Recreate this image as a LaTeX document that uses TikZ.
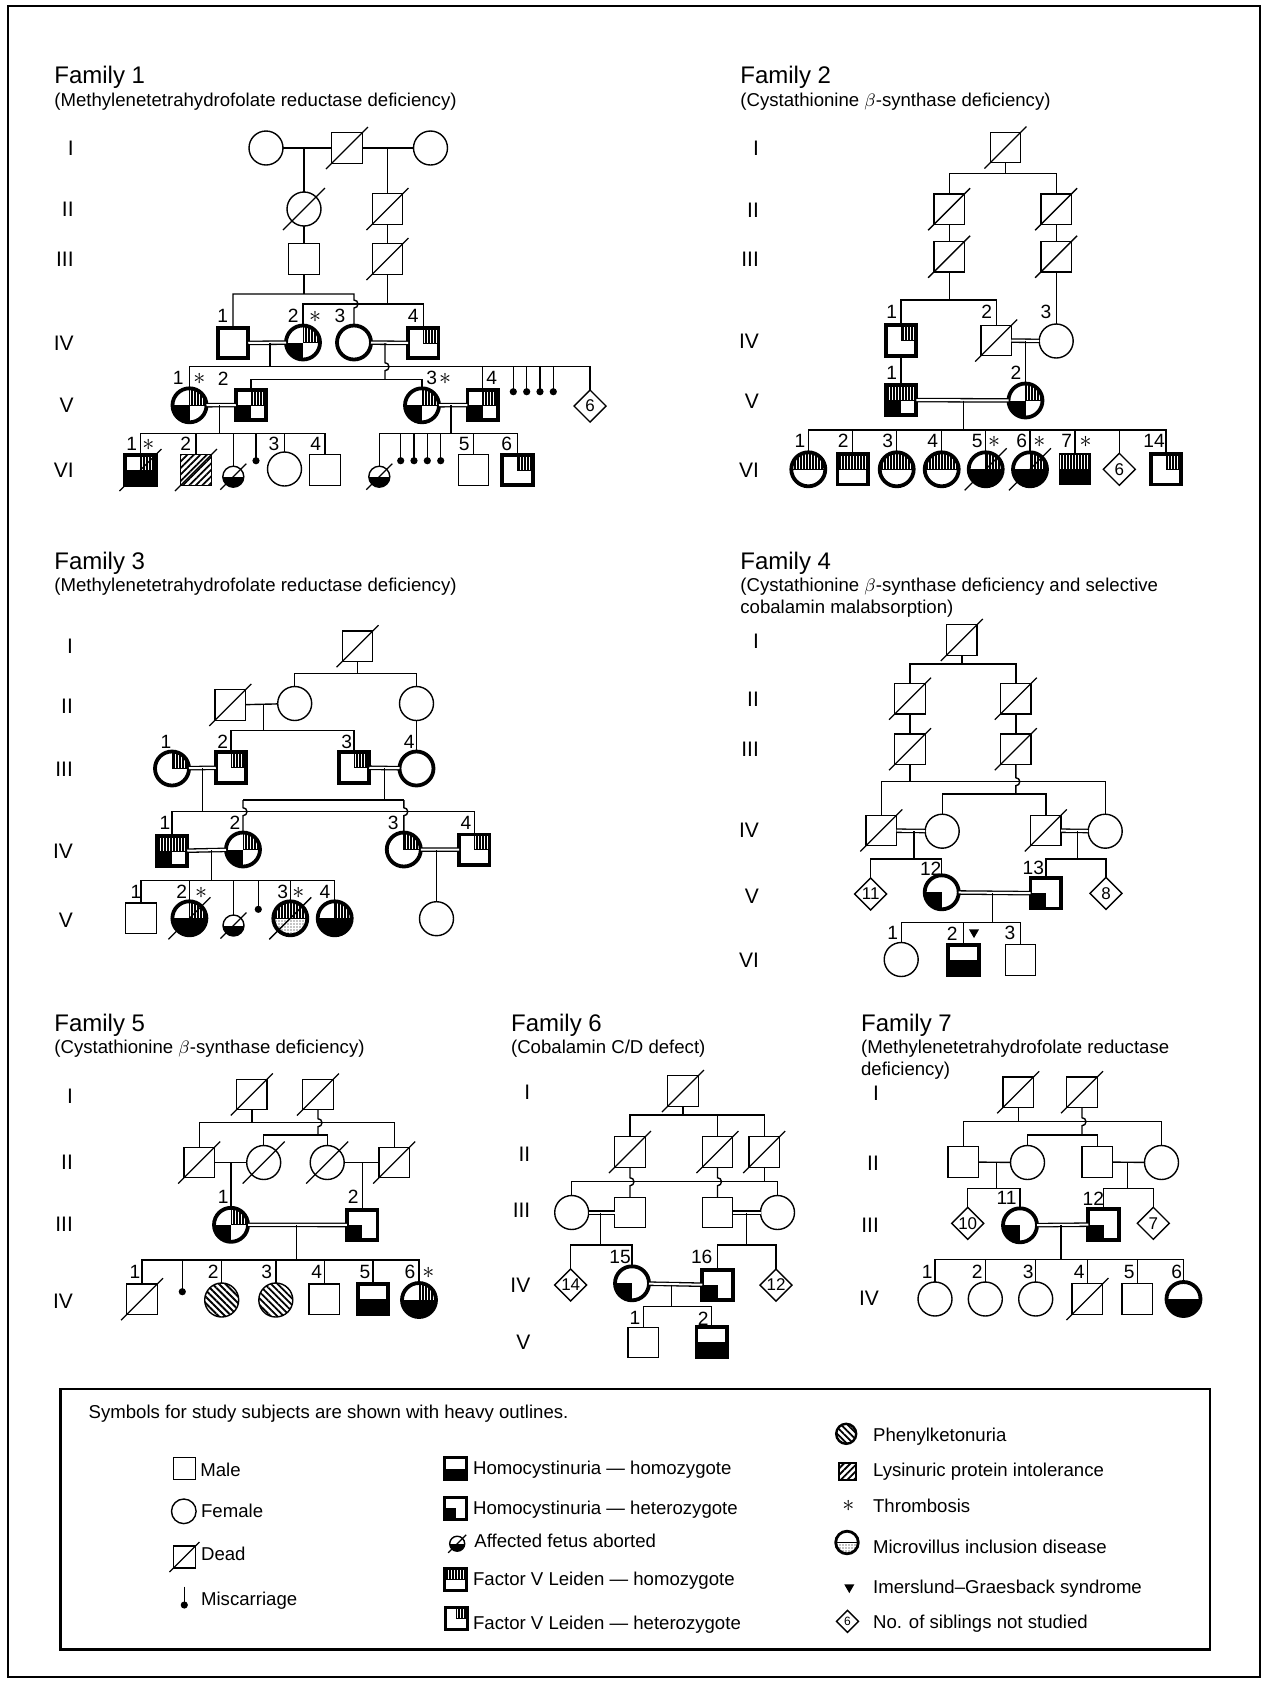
\documentclass[tikz,border=0pt]{standalone}
\usepackage{fontspec}
\setmainfont{Liberation Sans}
\usetikzlibrary{shapes.geometric,patterns.meta}
\newcounter{labc}
\newcommand\plab[2]{\stepcounter{labc}\node[lab] (lab\arabic{labc}) at (#1) {#2};}
\newcommand\past[1]{\stepcounter{labc}\node[astk] (lab\arabic{labc}) at (#1) {$\ast$};}
\newcommand\pgen[3]{\stepcounter{labc}\node[gen] (gen\arabic{labc}) at (#1,#2) {#3};}
\newcommand\pdead[2][21]{\draw[line width=0.65pt] (#2.center) ++(-#1,#1) -- ++({2*#1},{-2*#1});}
\newcommand\pbump{arc[start angle=-90,end angle=90,radius=4]}
\newcommand\qUR[1]{\path[#1] (path picture bounding box.center) rectangle (path picture bounding box.north east);}
\newcommand\qTOP[1]{\path[#1] (path picture bounding box.west) rectangle (path picture bounding box.north east);}
\newcommand\qLL[1]{\path[#1] (path picture bounding box.south west) rectangle (path picture bounding box.center);}
\newcommand\qBOT[1]{\path[#1] (path picture bounding box.south west) rectangle (path picture bounding box.east);}
\newcommand\qALL[1]{\path[#1] (path picture bounding box.south west) rectangle (path picture bounding box.north east);}
\tikzset{
  ln/.style={line width=0.7pt},
  dbl/.style={double, double distance=1pt, line width=0.65pt},
  base/.style={draw, line width=0.7pt, inner sep=0pt, outer sep=0pt, fill=white},
  M/.style={base, rectangle, minimum size=15.25pt},
  F/.style={base, circle, minimum size=17pt},
  H/.style={line width=1.9pt},
  Dm/.style={base, diamond, aspect=1, minimum width=16pt, minimum height=16pt, font=\fontsize{8.5}{8.5}\selectfont},
  fetus/.style={base, circle, minimum size=10.5pt, path picture={\qBOT{blk}}},
  mdot/.style={circle, fill=black, inner sep=0pt, minimum size=3.6pt},
  pp/.style={path picture={#1}},
  lab/.style={font=\fontsize{9.6}{9.6}\selectfont, inner sep=0pt},
  astk/.style={font=\fontsize{13}{13}\selectfont, inner sep=0pt},
  gen/.style={font=\fontsize{10.5}{10.5}\selectfont, inner sep=0pt, anchor=east},
  ttl/.style={font=\fontsize{12}{12}\selectfont, inner sep=0pt, anchor=base west},
  sub/.style={font=\fontsize{9.3}{9.3}\selectfont, inner sep=0pt, anchor=base west},
  leg/.style={font=\fontsize{9.3}{9.3}\selectfont, inner sep=0pt, anchor=base west},
  hatch/.style={pattern={Lines[angle=90,distance=1.5pt,line width=0.55pt]}, draw, line width=0.45pt},
  blk/.style={fill=black},
  pku/.style={pattern={Lines[angle=-45,distance=2.3pt,line width=0.9pt]}},
  lpi/.style={pattern={Lines[angle=45,distance=2.3pt,line width=0.9pt]}},
  mvi/.style={pattern={Dots[distance=1.5pt,radius=0.3pt]}, draw, line width=0.45pt},
  tri/.style={regular polygon, regular polygon sides=3, shape border rotate=180, fill=black, inner sep=0pt, minimum size=5.8pt},
}
\begin{document}
\begin{tikzpicture}[x=0.5pt,y=-0.5pt]
\useasboundingbox (0,0) rectangle (1267,1683);
\draw[line width=1pt] (8,6) rectangle (1260,1677);

%%%%%%%%%%%%%%%% FAMILY 1
\node[ttl] (t1) at (54,83.3) {Family 1};
\node[sub] (s1) at (54,106) {(Methylenetetrahydrofolate reductase deficiency)};
\pgen{74}{148}{I}\pgen{74}{209}{II}\pgen{74}{259}{III}\pgen{74}{343}{IV}\pgen{74}{405}{V}\pgen{74}{470}{VI}
\node[F] (f1i1) at (266,148) {};
\node[M] (f1i2) at (347,148) {};
\node[F] (f1i3) at (430.5,148) {};
\draw[ln] (f1i1) -- (f1i2) -- (f1i3);
\coordinate (f1j1) at (304,148);
\coordinate (f1j2) at (387.5,148);
\node[F] (f1ii1) at (304,209) {};
\node[M] (f1ii2) at (387.5,209) {};
\node[M] (f1iii1) at (304,259) {};
\node[M] (f1iii2) at (387.5,259) {};
\draw[ln] (f1j1) -- (f1ii1) -- (f1iii1);
\draw[ln] (f1j2) -- (f1ii2) -- (f1iii2);
\node[M,H] (f1iv1) at (233,343) {};
\node[F,H,pp={\qUR{hatch}\qLL{blk}}] (f1iv2) at (303,342.5) {};
\node[F,H] (f1iv3) at (354,342.5) {};
\node[M,H,pp={\qUR{hatch}}] (f1iv4) at (423.3,343) {};
\draw[dbl] (f1iv1) -- (f1iv2);
\draw[dbl] (f1iv3) -- (f1iv4);
\coordinate (f1sA) at (304,294);
\coordinate (f1b1) at (354,300);
\draw[ln] (f1iii1) -- (f1sA);
\draw[ln] (f1iv1.north) |- (f1sA) -- (f1b1 |- f1sA) -- (f1b1) \pbump -- (f1iv3.north);
\coordinate (f1sB) at (387.5,304);
\draw[ln] (f1iii2) -- (f1sB);
\draw[ln] (f1iv2.north) |- (f1sB) -| (f1iv4.north);
\coordinate (f1m1) at (270,343);
\coordinate (f1sC) at (270,366.7);
\draw[ln] (f1m1) -- (f1sC);
\coordinate (f1m2) at (385,343);
\coordinate (f1b2) at (385,362.7);
\coordinate (f1sD) at (385,379.3);
\draw[ln] (f1m2) -- (f1b2) \pbump -- (f1sD);
\node[F,H,pp={\qUR{hatch}\qLL{blk}}] (f1v1) at (189.5,405.3) {};
\node[M,H,pp={\qUR{hatch}\qLL{blk}}] (f1v2) at (251,405) {};
\node[F,H,pp={\qUR{hatch}\qLL{blk}}] (f1v3) at (422,405.3) {};
\node[M,H,pp={\qUR{hatch}\qLL{blk}}] (f1v4) at (482.7,405) {};
\node[Dm] (f1d6) at (590,406) {6};
\draw[dbl] (f1v1) -- (f1v2);
\draw[dbl] (f1v3) -- (f1v4);
\draw[ln] (f1v1.north) |- (f1sC) -| (f1d6.north);
\draw[ln] (f1v4.north) -- (f1v4.north |- f1sC);
\node[mdot] (f1mc1) at (513.3,391.7) {};
\node[mdot] (f1mc2) at (526.7,391.7) {};
\node[mdot] (f1mc3) at (540,391.7) {};
\node[mdot] (f1mc4) at (553.3,391.7) {};
\foreach \n in {f1mc1,f1mc2,f1mc3,f1mc4} {\draw[ln] (\n.center) -- (\n |- f1sC);}
\draw[ln] (f1v2.north) |- (f1sD) -| (f1v3.north);
% VI left
\coordinate (f1m3) at (219.3,405);
\coordinate (f1sE) at (219.3,433.3);
\draw[ln] (f1m3) -- (f1sE);
\node[M,H,pp={\qUR{hatch}\qBOT{blk}}] (f1vi1) at (140.5,470) {};
\node[M,pp={\qALL{lpi}}] (f1vi2) at (196,470) {};
\node[fetus] (f1ab1) at (233.3,476.7) {};
\node[mdot] (f1mc5) at (256,460.7) {};
\node[F] (f1vi3) at (284.5,469) {};
\node[M] (f1vi4) at (325,470) {};
\draw[ln] (f1vi1.north) |- (f1sE) -| (f1vi4.north);
\foreach \n in {f1vi2,f1ab1,f1vi3} {\draw[ln] (\n.north) -- (\n.north |- f1sE);}
\draw[ln] (f1mc5.center) -- (f1mc5 |- f1sE);
% VI right
\coordinate (f1m4) at (451,405);
\coordinate (f1sF) at (451,433.3);
\draw[ln] (f1m4) -- (f1sF);
\node[fetus] (f1ab2) at (379.3,476.7) {};
\node[mdot] (f1mc6) at (400.7,460.7) {};
\node[mdot] (f1mc7) at (414,460.7) {};
\node[mdot] (f1mc8) at (427.3,460.7) {};
\node[mdot] (f1mc9) at (440.7,460.7) {};
\node[M] (f1vi5) at (473.5,470) {};
\node[M,H,pp={\qUR{hatch}}] (f1vi6) at (517.5,470) {};
\draw[ln] (f1ab2.north) |- (f1sF) -| (f1vi6.north);
\draw[ln] (f1vi5.north) -- (f1vi5.north |- f1sF);
\foreach \n in {f1mc6,f1mc7,f1mc8,f1mc9} {\draw[ln] (\n.center) -- (\n |- f1sF);}
\foreach \n in {f1i2,f1ii1,f1ii2,f1iii2,f1vi1,f1vi2} {\pdead{\n}}
\pdead[13]{f1ab1}\pdead[13]{f1ab2}
\plab{222.7,315.5}{1}\plab{293.3,315.5}{2}\past{315,316.5}\plab{340,315.5}{3}\plab{413.3,315.5}{4}
\plab{178.3,378.3}{1}\past{199.3,379.3}\plab{223.3,378.3}{2}\plab{431.7,378.3}{3}\past{445,379.3}\plab{491.7,378.3}{4}
\plab{131.7,444}{1}\past{148.3,445}\plab{185.7,444}{2}\plab{274,444}{3}\plab{315.7,444}{4}\plab{464.3,444}{5}\plab{506.7,444}{6}

%%%%%%%%%%%%%%%% FAMILY 2
\node[ttl] (t2) at (740,83.3) {Family 2};
\node[sub] (s2) at (740,106) {(Cystathionine $\beta$-synthase deficiency)};
\pgen{759.3}{148.3}{I}\pgen{759.3}{210.7}{II}\pgen{759.3}{259}{III}\pgen{759.3}{341}{IV}\pgen{759.3}{401.7}{V}\pgen{759.3}{470}{VI}
\node[M] (f2i) at (1005.5,147.5) {};
\coordinate (f2s1) at (1005.5,173.3);
\node[M] (f2ii1) at (949.2,209.2) {};
\node[M] (f2ii2) at (1056.2,209.2) {};
\node[M] (f2iii1) at (949.2,256.7) {};
\node[M] (f2iii2) at (1056.2,256.7) {};
\draw[ln] (f2i) -- (f2s1);
\draw[ln] (f2ii1.north) |- (f2s1) -| (f2ii2.north);
\draw[ln] (f2ii1) -- (f2iii1);
\draw[ln] (f2ii2) -- (f2iii2);
\coordinate (f2s2) at (949.2,300);
\node[M,H,pp={\qUR{hatch}}] (f2iv1) at (901,340.5) {};
\node[M] (f2iv2) at (996.2,340.5) {};
\node[F] (f2iv3) at (1056.2,341) {};
\draw[ln] (f2iii1) -- (f2s2);
\draw[ln] (f2iv1.north) |- (f2s2) -| (f2iv2.north);
\draw[ln] (f2iii2) -- (f2iv3);
\draw[dbl] (f2iv2) -- (f2iv3);
\node[M,H,pp={\qTOP{hatch}\qLL{blk}}] (f2v1) at (901,400) {};
\node[F,H,pp={\qUR{hatch}\qLL{blk}}] (f2v2) at (1025.5,400.5) {};
\draw[ln] (f2iv1) -- (f2v1);
\coordinate (f2m1) at (1025.5,340.7);
\draw[ln] (f2m1) -- (f2v2);
\draw[dbl] (f2v1) -- (f2v2);
\coordinate (f2m2) at (963.3,400.5);
\coordinate (f2s3) at (963.3,430);
\draw[ln] (f2m2) -- (f2s3);
\node[F,H,pp={\qTOP{hatch}}] (f2vi1) at (808.3,469.3) {};
\node[M,H,pp={\qTOP{hatch}}] (f2vi2) at (852.7,469.3) {};
\node[F,H,pp={\qTOP{hatch}}] (f2vi3) at (896.7,469.3) {};
\node[F,H,pp={\qTOP{hatch}}] (f2vi4) at (941.7,469.3) {};
\node[F,H,pp={\qUR{hatch}\qBOT{blk}}] (f2vi5) at (985.7,469.3) {};
\node[F,H,pp={\qUR{hatch}\qBOT{blk}}] (f2vi6) at (1030,469.3) {};
\node[M,pp={\qTOP{hatch}\qBOT{blk}}] (f2vi7) at (1075,469.3) {};
\node[Dm] (f2d6) at (1119.3,469.3) {6};
\node[M,H,pp={\qUR{hatch}}] (f2vi14) at (1166,469.3) {};
\draw[ln] (f2vi1.north) |- (f2s3) -| (f2vi14.north);
\foreach \n in {f2vi2,f2vi3,f2vi4,f2vi5,f2vi6,f2vi7,f2d6} {\draw[ln] (\n.north) -- (\n.north |- f2s3);}
\foreach \n in {f2i,f2ii1,f2ii2,f2iii1,f2iii2,f2iv2,f2vi5,f2vi6} {\pdead{\n}}
\plab{891.7,311.7}{1}\plab{986.7,311.7}{2}\plab{1046,311.7}{3}
\plab{891.7,372.7}{1}\plab{1016,372.7}{2}
\plab{800,440.7}{1}\plab{843.3,440.7}{2}\plab{887.7,440.7}{3}\plab{932.7,440.7}{4}\plab{977.3,440.7}{5}\past{994,441.7}\plab{1021.7,440.7}{6}\past{1039.3,441.7}\plab{1066.7,440.7}{7}\past{1085.7,441.7}\plab{1154,440.7}{14}

%%%%%%%%%%%%%%%% FAMILY 3
\node[ttl] (t3) at (54,569.3) {Family 3};
\node[sub] (s3) at (54,591.7) {(Methylenetetrahydrofolate reductase deficiency)};
\pgen{73.3}{646}{I}\pgen{73.3}{706.7}{II}\pgen{73.3}{769.3}{III}\pgen{73.3}{851.7}{IV}\pgen{73.3}{920}{V}
\node[M] (f3i) at (357.5,646.2) {};
\coordinate (f3s1) at (357.5,673.3);
\node[M] (f3ii1) at (230.3,705) {};
\node[F] (f3ii2) at (294.7,703.5) {};
\node[F] (f3ii3) at (416.5,703.5) {};
\draw[ln] (f3i) -- (f3s1);
\draw[ln] (f3ii2.north) |- (f3s1) -| (f3ii3.north);
\draw[ln] (f3ii1) -- (f3ii2);
\coordinate (f3m1) at (263.3,705);
\coordinate (f3s2) at (263.3,730.7);
\draw[ln] (f3m1) -- (f3s2);
\node[F,H,pp={\qUR{hatch}}] (f3iii1) at (172,768.5) {};
\node[M,H,pp={\qUR{hatch}}] (f3iii2) at (231,767.5) {};
\node[M,H,pp={\qUR{hatch}}] (f3iii3) at (354,767.5) {};
\node[F,H] (f3iii4) at (416.5,768.5) {};
\draw[ln] (f3iii2.north) |- (f3s2) -| (f3iii3.north);
\draw[ln] (f3ii3) -- (f3iii4);
\draw[dbl] (f3iii1) -- (f3iii2);
\draw[dbl] (f3iii3) -- (f3iii4);
\coordinate (f3m2) at (202.3,768);
\coordinate (f3s3) at (202.3,811.7);
\coordinate (f3m3) at (384.3,768);
\coordinate (f3s4) at (384.3,800);
\draw[ln] (f3m2) -- (f3s3);
\draw[ln] (f3m3) -- (f3s4);
\node[M,H,pp={\qTOP{hatch}\qLL{blk}}] (f3iv1) at (172,851) {};
\node[F,H,pp={\qUR{hatch}\qLL{blk}}] (f3iv2) at (243,849.5) {};
\node[F,H,pp={\qUR{hatch}}] (f3iv3) at (403.8,849.5) {};
\node[M,H,pp={\qUR{hatch}}] (f3iv4) at (474.3,849.7) {};
\draw[ln] (f3iv1.north) |- (f3s3) -| (f3iv4.north);
\coordinate (f3b1) at (243,807.7);
\coordinate (f3b2) at (403.8,807.7);
\draw[ln] (f3b1 |- f3s4) -- (f3b2 |- f3s4);
\draw[ln] (f3b1 |- f3s4) -- (f3b1) \pbump -- (f3iv2.north);
\draw[ln] (f3b2 |- f3s4) -- (f3b2) \pbump -- (f3iv3.north);
\draw[dbl] (f3iv1) -- (f3iv2);
\draw[dbl] (f3iv3) -- (f3iv4);
\coordinate (f3m4) at (211.7,850);
\coordinate (f3s5) at (211.7,880.7);
\draw[ln] (f3m4) -- (f3s5);
\coordinate (f3m5) at (436.5,850);
\node[M] (f3v1) at (141,918.3) {};
\node[F,H,pp={\qUR{hatch}\qBOT{blk}}] (f3v2) at (189.4,918.3) {};
\node[fetus] (f3ab) at (233.5,925.5) {};
\node[mdot] (f3mc) at (258.3,909.3) {};
\node[F,H,pp={\qTOP{hatch}\qBOT{mvi}}] (f3v3) at (290.3,918.3) {};
\node[F,H,pp={\qUR{hatch}\qBOT{blk}}] (f3v4) at (334.7,918.3) {};
\node[F] (f3v5) at (436.5,918.7) {};
\draw[ln] (f3v1.north) |- (f3s5) -| (f3v4.north);
\foreach \n in {f3v2,f3ab,f3v3} {\draw[ln] (\n.north) -- (\n.north |- f3s5);}
\draw[ln] (f3mc.center) -- (f3mc |- f3s5);
\draw[ln] (f3m5) -- (f3v5);
\foreach \n in {f3i,f3ii1,f3v2,f3v3} {\pdead{\n}}
\pdead[13]{f3ab}
\plab{166,741.7}{1}\plab{222.7,741.7}{2}\plab{346.7,741.7}{3}\plab{409.3,741.7}{4}
\plab{165,822.7}{1}\plab{235,822.7}{2}\plab{393.3,822.7}{3}\plab{466,822.7}{4}
\plab{136,891.7}{1}\plab{181.7,891.7}{2}\past{201,892.7}\plab{282.7,891.7}{3}\past{298.3,892.7}\plab{325,891.7}{4}

%%%%%%%%%%%%%%%% FAMILY 4
\node[ttl] (t4) at (740,569.3) {Family 4};
\node[sub] (s4a) at (740,591.7) {(Cystathionine $\beta$-synthase deficiency and selective};
\node[sub] (s4b) at (740,613.3) {cobalamin malabsorption)};
\pgen{759.3}{641.7}{I}\pgen{759.3}{699.3}{II}\pgen{759.3}{749.3}{III}\pgen{759.3}{830}{IV}\pgen{759.3}{896.7}{V}\pgen{759.3}{960.7}{VI}
\node[M] (f4i) at (961.8,640) {};
\coordinate (f4s1) at (961.8,664);
\node[M] (f4ii1) at (910,698.7) {};
\node[M] (f4ii2) at (1015.8,698.7) {};
\node[M] (f4iii1) at (910,749.2) {};
\node[M] (f4iii2) at (1015.8,749.2) {};
\draw[ln] (f4i) -- (f4s1);
\draw[ln] (f4ii1.north) |- (f4s1) -| (f4ii2.north);
\draw[ln] (f4ii1) -- (f4iii1);
\draw[ln] (f4ii2) -- (f4iii2);
\coordinate (f4s2) at (910,781.7);
\coordinate (f4b1) at (1015.8,777.7);
\coordinate (f4s3) at (1015.8,794);
\draw[ln] (f4iii1) -- (f4s2);
\draw[ln] (f4iii2) -- (f4b1) \pbump -- (f4s3);
\node[M] (f4iv1) at (881.3,830.5) {};
\node[F] (f4iv2) at (942.2,831.2) {};
\node[M] (f4iv3) at (1045.8,830.5) {};
\node[F] (f4iv4) at (1105.2,831.2) {};
\draw[ln] (f4iv1.north) |- (f4s2) -| (f4iv4.north);
\draw[ln] (f4iv2.north) |- (f4s3) -| (f4iv3.north);
\draw[dbl] (f4iv1) -- (f4iv2);
\draw[dbl] (f4iv3) -- (f4iv4);
\coordinate (f4m1) at (914,830.8);
\coordinate (f4s4) at (914,859);
\coordinate (f4m2) at (1077.3,830.8);
\coordinate (f4s5) at (1077.3,859);
\draw[ln] (f4m1) -- (f4s4);
\draw[ln] (f4m2) -- (f4s5);
\node[Dm] (f4d11) at (870.7,894) {11};
\node[F,H,pp={\qLL{blk}}] (f4v12) at (941.7,892.3) {};
\node[M,H,pp={\qLL{blk}}] (f4v13) at (1045.8,893.3) {};
\node[Dm] (f4d8) at (1106,893.3) {8};
\draw[ln] (f4d11.north) |- (f4s4) -| (f4v12.north);
\draw[ln] (f4v13.north) |- (f4s5) -| (f4d8.north);
\draw[dbl] (f4v12) -- (f4v13);
\coordinate (f4m3) at (992.7,893);
\coordinate (f4s6) at (992.7,922.7);
\draw[ln] (f4m3) -- (f4s6);
\node[F] (f4vi1) at (901.2,959.5) {};
\node[M,H,pp={\qBOT{blk}}] (f4vi2) at (963.5,960) {};
\node[M] (f4vi3) at (1020.5,960) {};
\draw[ln] (f4vi1.north) |- (f4s6) -| (f4vi3.north);
\draw[ln] (f4vi2.north) -- (f4vi2.north |- f4s6);
\foreach \n in {f4i,f4ii1,f4ii2,f4iii1,f4iii2,f4iv1,f4iv3} {\pdead{\n}}
\plab{930.7,868.3}{12}\plab{1033.3,868.3}{13}
\plab{892.7,933.3}{1}\plab{952.3,933.3}{2}\plab{1010,933.3}{3}
\node[tri] (f4ig) at (974,932.3) {};

%%%%%%%%%%%%%%%% FAMILY 5
\node[ttl] (t5) at (54,1031.7) {Family 5};
\node[sub] (s5) at (54,1053.3) {(Cystathionine $\beta$-synthase deficiency)};
\pgen{73.3}{1096.7}{I}\pgen{73.3}{1162.7}{II}\pgen{73.3}{1224}{III}\pgen{73.3}{1301}{IV}
\node[M] (f5i1) at (251.8,1094.5) {};
\node[M] (f5i2) at (318,1094.5) {};
\coordinate (f5s1) at (251.8,1122.7);
\node[M] (f5ii1) at (199.2,1162.5) {};
\node[F] (f5ii2) at (263.7,1162.5) {};
\node[F] (f5ii3) at (327.2,1162.5) {};
\node[M] (f5ii4) at (394.2,1162.5) {};
\draw[ln] (f5i1) -- (f5s1);
\draw[ln] (f5ii1.north) |- (f5s1) -| (f5ii4.north);
\coordinate (f5b1) at (318,1118.7);
\coordinate (f5s2) at (318,1135);
\draw[ln] (f5i2) -- (f5b1) \pbump -- (f5s2);
\draw[ln] (f5ii2.north) |- (f5s2) -| (f5ii3.north);
\draw[ln] (f5ii1) -- (f5ii2);
\draw[ln] (f5ii3) -- (f5ii4);
\coordinate (f5m1) at (231,1162.5);
\coordinate (f5m2) at (362.2,1162.5);
\node[F,H,pp={\qUR{hatch}\qLL{blk}}] (f5iii1) at (231,1224.8) {};
\node[M,H,pp={\qLL{blk}}] (f5iii2) at (362.2,1225) {};
\draw[ln] (f5m1) -- (f5iii1);
\draw[ln] (f5m2) -- (f5iii2);
\draw[dbl] (f5iii1) -- (f5iii2);
\coordinate (f5m3) at (296.7,1224.8);
\coordinate (f5s3) at (296.7,1260);
\draw[ln] (f5m3) -- (f5s3);
\node[M] (f5iv1) at (142,1299.2) {};
\node[mdot] (f5mc) at (182.3,1291.7) {};
\node[F,pp={\qALL{pku}}] (f5iv2) at (221.7,1300) {};
\node[F,pp={\qALL{pku}}] (f5iv3) at (275.8,1300) {};
\node[M] (f5iv4) at (324.2,1299.2) {};
\node[M,H,pp={\qBOT{blk}}] (f5iv5) at (373,1299.2) {};
\node[F,H,pp={\qUR{hatch}\qBOT{blk}}] (f5iv6) at (419,1300) {};
\draw[ln] (f5iv1.north) |- (f5s3) -| (f5iv6.north);
\foreach \n in {f5iv2,f5iv3,f5iv4,f5iv5} {\draw[ln] (\n.north) -- (\n.north |- f5s3);}
\draw[ln] (f5mc.center) -- (f5mc |- f5s3);
\foreach \n in {f5i1,f5i2,f5ii1,f5ii2,f5ii3,f5ii4,f5iv1} {\pdead{\n}}
\plab{223.3,1196.7}{1}\plab{353.3,1196.7}{2}
\plab{135,1271.7}{1}\plab{213.3,1271.7}{2}\plab{266.7,1271.7}{3}\plab{316.7,1271.7}{4}\plab{365,1271.7}{5}\plab{410,1271.7}{6}\past{428.3,1272.7}

%%%%%%%%%%%%%%%% FAMILY 6
\node[ttl] (t6) at (510.7,1031.7) {Family 6};
\node[sub] (s6) at (510.7,1053.3) {(Cobalamin C/D defect)};
\pgen{530.7}{1092.7}{I}\pgen{530.7}{1154}{II}\pgen{530.7}{1210.7}{III}\pgen{530.7}{1285}{IV}\pgen{530.7}{1342.7}{V}
\node[M] (f6i) at (683,1091) {};
\coordinate (f6s1) at (683,1115);
\node[M] (f6ii1) at (630,1152) {};
\node[M] (f6ii2) at (717.5,1152) {};
\node[M] (f6ii3) at (764.2,1152) {};
\draw[ln] (f6i) -- (f6s1);
\draw[ln] (f6ii1.north) |- (f6s1) -| (f6ii3.north);
\draw[ln] (f6ii2.north) -- (f6ii2.north |- f6s1);
\coordinate (f6s2) at (764.2,1181.7);
\draw[ln] (f6ii3) -- (f6s2);
\node[F] (f6iii1) at (571.7,1212.5) {};
\node[M] (f6iii2) at (630,1212.5) {};
\node[M] (f6iii3) at (717.5,1212.5) {};
\node[F] (f6iii4) at (777.5,1212.5) {};
\draw[ln] (f6iii1.north) |- (f6s2) -| (f6iii4.north);
\coordinate (f6b1) at (630,1177.7);
\coordinate (f6b2) at (717.5,1177.7);
\draw[ln] (f6ii1) -- (f6b1) \pbump -- (f6iii2);
\draw[ln] (f6ii2) -- (f6b2) \pbump -- (f6iii3);
\draw[dbl] (f6iii1) -- (f6iii2);
\draw[dbl] (f6iii3) -- (f6iii4);
\coordinate (f6m1) at (600.7,1212.5);
\coordinate (f6s3) at (600.7,1245);
\coordinate (f6m2) at (746.7,1212.5);
\coordinate (f6s4) at (746.7,1245);
\draw[ln] (f6m1) -- (f6s3);
\draw[ln] (f6m2) -- (f6s4);
\node[Dm] (f6d14) at (570.7,1285) {14};
\node[F,H,pp={\qLL{blk}}] (f6iv15) at (632,1283.3) {};
\node[M,H,pp={\qLL{blk}}] (f6iv16) at (717.5,1285) {};
\node[Dm] (f6d12) at (776,1285) {12};
\draw[ln] (f6d14.north) |- (f6s3) -| (f6iv15.north);
\draw[ln] (f6iv16.north) |- (f6s4) -| (f6d12.north);
\draw[dbl] (f6iv15) -- (f6iv16);
\coordinate (f6m3) at (671.7,1284.5);
\coordinate (f6s5) at (671.7,1306.7);
\draw[ln] (f6m3) -- (f6s5);
\node[M] (f6v1) at (643.3,1342.5) {};
\node[M,H,pp={\qBOT{blk}}] (f6v2) at (711.7,1342) {};
\draw[ln] (f6v1.north) |- (f6s5) -| (f6v2.north);
\foreach \n in {f6i,f6ii1,f6ii2,f6ii3} {\pdead{\n}}
\plab{620,1256.7}{15}\plab{701.7,1256.7}{16}
\plab{635,1318.3}{1}\plab{703.3,1318.3}{2}

%%%%%%%%%%%%%%%% FAMILY 7
\node[ttl] (t7) at (860.7,1031.7) {Family 7};
\node[sub] (s7a) at (860.7,1053.3) {(Methylenetetrahydrofolate reductase};
\node[sub] (s7b) at (860.7,1075) {deficiency)};
\pgen{879.3}{1093.3}{I}\pgen{879.3}{1163.3}{II}\pgen{879.3}{1225}{III}\pgen{879.3}{1298.3}{IV}
\node[M] (f7i1) at (1018.2,1092.2) {};
\node[M] (f7i2) at (1082,1092.2) {};
\coordinate (f7s1) at (1018.2,1121.7);
\node[M] (f7ii1) at (963.3,1162) {};
\node[F] (f7ii2) at (1027.5,1162.5) {};
\node[M] (f7ii3) at (1097.2,1162) {};
\node[F] (f7ii4) at (1161.5,1162.5) {};
\draw[ln] (f7i1) -- (f7s1);
\draw[ln] (f7ii1.north) |- (f7s1) -| (f7ii4.north);
\coordinate (f7b1) at (1082,1117.7);
\coordinate (f7s2) at (1082,1135);
\draw[ln] (f7i2) -- (f7b1) \pbump -- (f7s2);
\draw[ln] (f7ii2.north) |- (f7s2) -| (f7ii3.north);
\draw[ln] (f7ii1) -- (f7ii2);
\draw[ln] (f7ii3) -- (f7ii4);
\coordinate (f7m1) at (996.7,1162);
\coordinate (f7s3) at (996.7,1188.3);
\coordinate (f7m2) at (1127.3,1162);
\coordinate (f7s4) at (1127.3,1188.3);
\draw[ln] (f7m1) -- (f7s3);
\draw[ln] (f7m2) -- (f7s4);
\node[Dm] (f7d10) at (967.7,1223.3) {10};
\node[F,H,pp={\qLL{blk}}] (f7iii11) at (1020,1225.3) {};
\node[M,H,pp={\qLL{blk}}] (f7iii12) at (1103.5,1224.5) {};
\node[Dm] (f7d7) at (1153.3,1223.3) {7};
\draw[ln] (f7d10.north) |- (f7s3) -| (f7iii11.north);
\draw[ln] (f7iii12.north) |- (f7s4) -| (f7d7.north);
\draw[dbl] (f7iii11) -- (f7iii12);
\coordinate (f7m3) at (1061,1225);
\coordinate (f7s5) at (1061,1259.3);
\draw[ln] (f7m3) -- (f7s5);
\node[F] (f7iv1) at (935,1299) {};
\node[F] (f7iv2) at (985.3,1299) {};
\node[F] (f7iv3) at (1035.7,1299) {};
\node[M] (f7iv4) at (1087.4,1299) {};
\node[M] (f7iv5) at (1137.4,1299) {};
\node[F,H,pp={\qBOT{blk}}] (f7iv6) at (1183.5,1299) {};
\draw[ln] (f7iv1.north) |- (f7s5) -| (f7iv6.north);
\foreach \n in {f7iv2,f7iv3,f7iv4,f7iv5} {\draw[ln] (\n.north) -- (\n.north |- f7s5);}
\foreach \n in {f7i1,f7i2,f7iv4} {\pdead{\n}}
\plab{1006.7,1198.3}{11}\plab{1093.3,1198.3}{12}
\plab{927.3,1271.7}{1}\plab{977.3,1271.7}{2}\plab{1028.3,1271.7}{3}\plab{1079.3,1271.7}{4}\plab{1129.3,1271.7}{5}\plab{1176.7,1271.7}{6}

%%%%%%%%%%%%%%%% LEGEND
\draw[line width=1.25pt] (60.7,1389) rectangle (1210,1649.5);
\node[leg] (lg0) at (88.3,1418.3) {Symbols for study subjects are shown with heavy outlines.};
\node[base,rectangle,minimum size=11pt] (lgm) at (184.2,1468.7) {};
\node[leg] (lgmt) at (200,1476) {Male};
\node[base,circle,minimum size=12.3pt] (lgf) at (183.8,1511.3) {};
\node[leg] (lgft) at (200.7,1517.7) {Female};
\node[base,rectangle,minimum size=11pt] (lgd) at (184.5,1557) {};
\pdead[15]{lgd}
\node[leg] (lgdt) at (200.7,1560) {Dead};
\node[mdot] (lgmc) at (184.3,1605) {};
\coordinate (lgmc0) at (184.3,1586.7);
\draw[ln] (lgmc0) -- (lgmc.center);
\node[leg] (lgmct) at (200.7,1605) {Miscarriage};

\node[base,rectangle,minimum size=11pt,line width=1.5pt,pp={\qBOT{blk}}] (lgh1) at (455.8,1468.7) {};
\node[leg] (lgh1t) at (472.7,1474) {Homocystinuria — homozygote};
\node[base,rectangle,minimum size=11pt,line width=1.5pt,pp={\qLL{blk}}] (lgh2) at (455.8,1508.3) {};
\node[leg] (lgh2t) at (472.7,1514.3) {Homocystinuria — heterozygote};
\node[base,circle,minimum size=7.5pt,pp={\qBOT{blk}}] (lgab) at (457.2,1543.7) {};
\pdead[9]{lgab}
\node[leg] (lgabt) at (474,1547.7) {Affected fetus aborted};
\node[base,rectangle,minimum size=11pt,line width=1.5pt,pp={\qTOP{hatch}}] (lgv1) at (455.8,1579.7) {};
\node[leg] (lgv1t) at (472.7,1585) {Factor V Leiden — homozygote};
\node[base,rectangle,minimum size=11pt,line width=1.5pt,pp={\qUR{hatch}}] (lgv2) at (456.7,1618.7) {};
\node[leg] (lgv2t) at (472.7,1629) {Factor V Leiden — heterozygote};

\node[base,circle,minimum size=10pt,line width=1.2pt,pp={\qALL{pku}}] (lgp) at (846.2,1433.8) {};
\node[leg] (lgpt) at (872.7,1441.7) {Phenylketonuria};
\node[base,rectangle,minimum size=8.5pt,line width=1.1pt,pp={\qALL{lpi}}] (lgl) at (847.8,1471.2) {};
\node[leg] (lglt) at (872.7,1476.7) {Lysinuric protein intolerance};
\node[astk] (lgt) at (848.3,1506) {$\ast$};
\node[leg] (lgtt) at (872.7,1512.7) {Thrombosis};
\node[base,circle,minimum size=11.3pt,line width=1.4pt,pp={\qBOT{mvi}}] (lgmv) at (847,1542.5) {};
\node[leg] (lgmvt) at (872.7,1553.3) {Microvillus inclusion disease};
\node[tri] (lgig) at (849.3,1587.3) {};
\node[leg] (lgigt) at (872.7,1593.3) {Imerslund–Graesback syndrome};
\node[base,diamond,aspect=1,minimum width=11pt,minimum height=11pt,font=\fontsize{6}{6}\selectfont] (lgsd) at (847.5,1621.3) {6};
\node[leg] (lgsdt) at (872.7,1628.3) {No. of siblings not studied};
\end{tikzpicture}
\end{document}
